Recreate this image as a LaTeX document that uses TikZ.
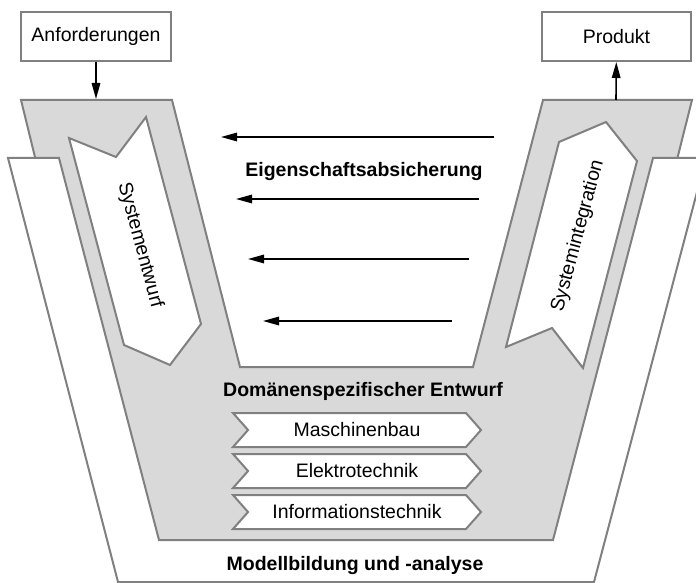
\documentclass[tikz,border=0pt]{standalone}
\usepackage{fontspec}
\setmainfont{Liberation Sans}
\usetikzlibrary{arrows.meta, positioning, shapes.symbols}
\definecolor{vfill}{HTML}{D9D9D9}
\definecolor{vborder}{HTML}{808080}

\begin{document}
\begin{tikzpicture}[
      x=1pt, y=-1pt,
      box/.style={draw=vborder, line width=2pt, fill=white, minimum width=150pt,
        minimum height=49pt, font=\fontsize{19.5}{23}\selectfont},
      band/.style={draw=vborder, line width=2pt},
      discipline/.style={signal, signal from=west, signal to=east,
        signal pointer angle=97, draw=vborder, fill=white, line width=2pt,
        minimum width=248pt, minimum height=34pt, inner sep=0pt,
        font=\fontsize{19.5}{23}\selectfont},
      phase/.style={font=\fontsize{19.5}{23}\selectfont, inner sep=0pt},
      heading/.style={font=\fontsize{19.5}{23}\selectfont\bfseries,
        inner sep=0pt, anchor=base},
      flow/.style={-{Triangle[length=16pt, width=8.5pt]}, line width=1.6pt},
      >=Latex
    ]
      \useasboundingbox (0,0) rectangle (696,583);
      \clip (0,0) rectangle (696,583);
      \draw[band, fill=vfill] (21,100) -- (172,100) -- (240,367) -- (473,367)
        -- (543,100) -- (692,100) -- (580,545) -- (130,545) -- cycle;
      \draw[band, fill=white] (8,158) -- (59,158) -- (159,540) -- (553,540)
        -- (653,158) -- (706,158) -- (594,582) -- (118,582) -- cycle;
      \draw[band, fill=white] (69,138) -- (116,157) -- (146,117) -- (201,324)
        -- (170,365) -- (124,345) -- cycle;
      \draw[band, fill=white] (559,142) -- (606,122) -- (637,161) -- (583,368)
        -- (552,328) -- (506,347) -- cycle;
      \node[phase, rotate=-75] (entwurf) at (140,245) {Systementwurf};
      \node[phase, rotate=75] (integration) at (578,236) {Systemintegration};
      \node[box] (anf) at (96,36.5) {Anforderungen};
      \node[box, minimum width=149pt] (prod) at (616.5,36.5) {Produkt};
      \coordinate (intake) at (96,99);
      \coordinate (outlet) at (616,100);
      \draw[flow] (anf) -- (intake);
      \draw[flow] (outlet) -- (prod);
      \foreach \n/\xs/\xe/\yy in {1/494/221/137, 2/479/236/199,
          3/469/248/259, 4/452/263/321}{
        \coordinate (src\n) at (\xs,\yy);
        \coordinate (dst\n) at (\xe,\yy);
        \draw[flow] (src\n) -- (dst\n);
      }
      \node[heading] (absicherung) at (364,176) {Eigenschaftsabsicherung};
      \node[heading] (domaenen) at (363,396) {Domänenspezifischer Entwurf};
      \node[heading] (modell) at (355,570) {Modellbildung und -analyse};
      \node[discipline] (mb) at (357,430) {Maschinenbau};
      \node[discipline, below=5pt of mb] (et) {Elektrotechnik};
      \node[discipline, below=5pt of et] (it) {Informationstechnik};
    \end{tikzpicture}
\end{document}
